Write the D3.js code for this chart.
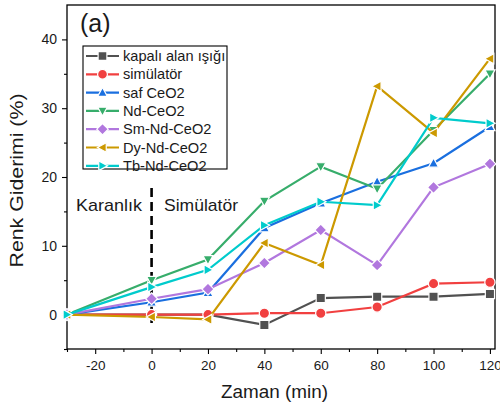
<!DOCTYPE html>
<html>
<head>
<meta charset="utf-8">
<script src="https://cdn.jsdelivr.net/npm/d3@7"></script>
<style>
  html, body { margin: 0; padding: 0; background: #fff; }
  svg { display: block; font-family: "Liberation Sans", Arial, sans-serif; }
</style>
</head>
<body>
<svg id="chart" width="500" height="407"></svg>
<script>
// Time points (min)
const times = [-30, 0, 20, 40, 60, 80, 100, 120];

// Colour removal (%) per sample
const kapaliAlan = [0, 0, 0, -1.5, 2.4, 2.6, 2.6, 3.0];
const simulator  = [0, 0, 0, 0.2, 0.2, 1.1, 4.5, 4.7];
const safCeO2    = [0, 1.8, 3.2, 12.6, 16.2, 19.3, 22.0, 27.3];
const ndCeO2     = [0, 5.0, 8.0, 16.5, 21.5, 18.3, 26.8, 35.0];
const smNdCeO2   = [0, 2.3, 3.7, 7.5, 12.3, 7.2, 18.5, 21.9];
const dyNdCeO2   = [0, -0.35, -0.7, 10.4, 7.2, 33.2, 26.4, 37.2];
const tbNdCeO2   = [0, 4.0, 6.5, 13.0, 16.4, 15.9, 28.6, 27.8];

const seriesNames = ["kapalı alan ışığı", "simülatör", "saf CeO2", "Nd-CeO2", "Sm-Nd-CeO2", "Dy-Nd-CeO2", "Tb-Nd-CeO2"];
const seriesValues = [kapaliAlan, simulator, safCeO2, ndCeO2, smNdCeO2, dyNdCeO2, tbNdCeO2];
const seriesColors = ["#515151", "#F14040", "#1A6FDF", "#37AD6B", "#B177DE", "#CC9900", "#00CBCC"];
const seriesShapes = ["square", "circle", "up", "down", "diamond", "left", "right"];

const xTicks = [-20, 0, 20, 40, 60, 80, 100, 120];
const yTicks = [0, 10, 20, 30, 40];

const svg = d3.select("#chart");
const plotLeft = 67, plotRight = 495, plotTop = 5, plotBottom = 349;

const x = d3.scaleLinear().domain([-30, 121.8]).range([plotLeft, plotRight]);
const y = d3.scaleLinear().domain([-5, 45]).range([plotBottom, plotTop]);

const FONT = "Liberation Sans, Arial, sans-serif";
const TXT = "#1a1a1a";

// Frame
svg.append("rect")
  .attr("x", plotLeft).attr("y", plotTop)
  .attr("width", plotRight - plotLeft).attr("height", plotBottom - plotTop)
  .attr("fill", "none").attr("stroke", "#000").attr("stroke-width", 1.3);

// Bottom axis: major + minor ticks
const xAxis = d3.axisBottom(x).tickValues(xTicks).tickSize(5).tickSizeOuter(0)
  .tickPadding(6).tickFormat(d => String(d));
const gx = svg.append("g").attr("transform", `translate(0,${plotBottom})`).call(xAxis);
gx.select(".domain").remove();
gx.selectAll("text").attr("font-size", 13.5).attr("fill", TXT).attr("font-family", FONT);
const xMinor = d3.range(-30, 121, 10).filter(v => !xTicks.includes(v));
svg.append("g").attr("transform", `translate(0,${plotBottom})`).call(
  d3.axisBottom(x).tickValues(xMinor).tickSize(3).tickSizeOuter(0).tickFormat("")
).select(".domain").remove();

// Left axis
const yAxis = d3.axisLeft(y).tickValues(yTicks).tickSize(5).tickSizeOuter(0)
  .tickPadding(5).tickFormat(d => String(d));
const gy = svg.append("g").attr("transform", `translate(${plotLeft},0)`).call(yAxis);
gy.select(".domain").remove();
gy.selectAll("text").attr("font-size", 14).attr("fill", TXT).attr("font-family", FONT);
svg.append("g").attr("transform", `translate(${plotLeft},0)`).call(
  d3.axisLeft(y).tickValues([-5, 5, 15, 25, 35]).tickSize(3).tickSizeOuter(0).tickFormat("")
).select(".domain").remove();
svg.selectAll(".tick line").attr("stroke", "#000").attr("stroke-width", 1.1);

// Axis titles
svg.append("text")
  .attr("x", 274.5).attr("y", 398)
  .attr("text-anchor", "middle").attr("font-size", 17.5).attr("fill", TXT)
  .attr("textLength", 107).attr("lengthAdjust", "spacingAndGlyphs")
  .text("Zaman (min)");
svg.append("text")
  .attr("transform", "translate(23,180.5) rotate(-90)")
  .attr("text-anchor", "middle").attr("font-size", 18.5).attr("fill", TXT)
  .attr("textLength", 174).attr("lengthAdjust", "spacingAndGlyphs")
  .text("Renk Giderimi (%)");

// Dark / light divider at t = 0
svg.append("line")
  .attr("x1", x(0)).attr("x2", x(0))
  .attr("y1", 188).attr("y2", 326)
  .attr("stroke", "#000").attr("stroke-width", 2.6)
  .attr("stroke-dasharray", "9,5");
svg.append("text").attr("x", 76).attr("y", 211)
  .attr("font-size", 17).attr("fill", TXT)
  .attr("textLength", 66).attr("lengthAdjust", "spacingAndGlyphs").text("Karanlık");
svg.append("text").attr("x", 164).attr("y", 211)
  .attr("font-size", 17).attr("fill", TXT)
  .attr("textLength", 74).attr("lengthAdjust", "spacingAndGlyphs").text("Simülatör");

// Panel label
svg.append("text").attr("x", 80).attr("y", 32)
  .attr("font-size", 25).attr("fill", TXT).text("(a)");

// Marker shapes
function markerPath(shape, s) {
  switch (shape) {
    case "square": return `M${-s},${-s}H${s}V${s}H${-s}Z`;
    case "circle": return d3.symbol(d3.symbolCircle, Math.PI * s * s * 1.25)();
    case "up": return `M0,${-s * 1.15}L${s * 1.1},${s * 0.85}L${-s * 1.1},${s * 0.85}Z`;
    case "down": return `M0,${s * 1.15}L${s * 1.1},${-s * 0.85}L${-s * 1.1},${-s * 0.85}Z`;
    case "left": return `M${-s * 1.15},0L${s * 0.85},${-s * 1.1}L${s * 0.85},${s * 1.1}Z`;
    case "right": return `M${s * 1.15},0L${-s * 0.85},${-s * 1.1}L${-s * 0.85},${s * 1.1}Z`;
    case "diamond": return `M0,${-s * 1.3}L${s * 1.3},0L0,${s * 1.3}L${-s * 1.3},0Z`;
  }
}

const line = d3.line().x(d => x(d.t)).y(d => y(d.v));
const plot = svg.append("g");

seriesValues.forEach((vals, i) => {
  const pts = times.map((t, j) => ({ t, v: vals[j] }));
  const g = plot.append("g");
  g.append("path").datum(pts)
    .attr("d", line).attr("fill", "none")
    .attr("stroke", seriesColors[i]).attr("stroke-width", 2.2);
  g.selectAll("path.m").data(pts).join("path").attr("class", "m")
    .attr("transform", d => `translate(${x(d.t)},${y(d.v)})`)
    .attr("d", markerPath(seriesShapes[i], 4.6))
    .attr("fill", seriesColors[i])
    .attr("stroke", "#fff").attr("stroke-width", 1.2);
});

// Legend
const lg = svg.append("g");
lg.append("rect").attr("x", 83).attr("y", 46).attr("width", 144).attr("height", 123)
  .attr("fill", "#fff").attr("stroke", "#000").attr("stroke-width", 1.1);
seriesNames.forEach((name, i) => {
  const cy = 56 + i * 18.3;
  lg.append("line").attr("x1", 86).attr("x2", 119).attr("y1", cy).attr("y2", cy)
    .attr("stroke", seriesColors[i]).attr("stroke-width", 2.2);
  lg.append("path").attr("transform", `translate(102.5,${cy})`)
    .attr("d", markerPath(seriesShapes[i], 4.4))
    .attr("fill", seriesColors[i]).attr("stroke", "#fff").attr("stroke-width", 1.2);
  lg.append("text").attr("x", 123).attr("y", cy + 5)
    .attr("font-size", 14.6).attr("fill", TXT).text(name);
});
</script>
</body>
</html>
